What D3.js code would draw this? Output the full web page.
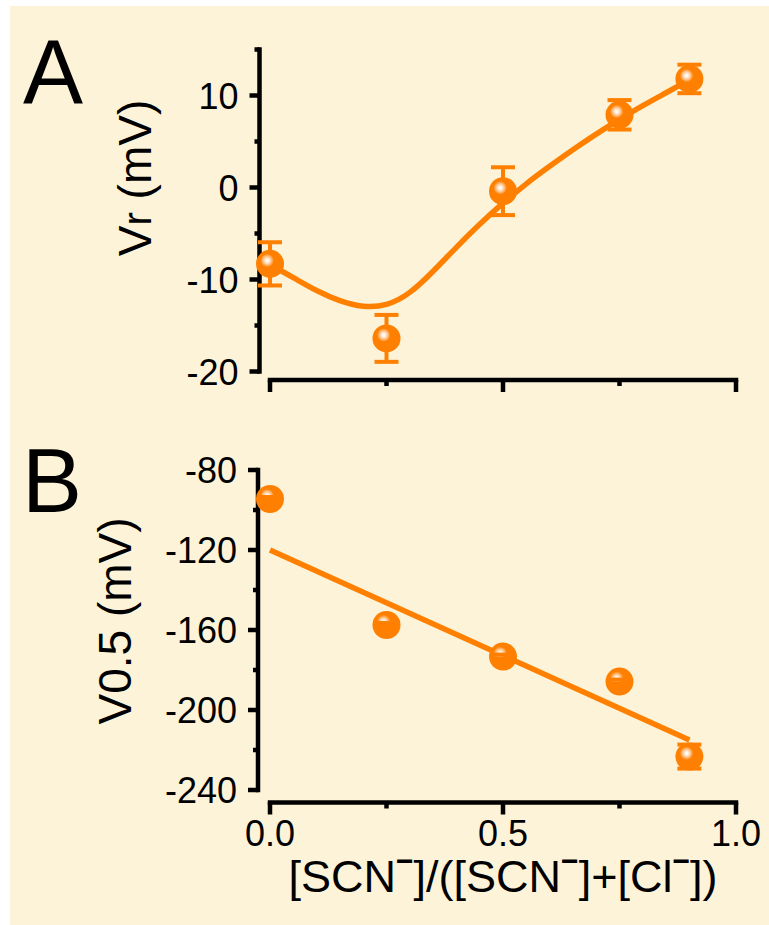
<!DOCTYPE html>
<html lang="en">
<head>
<meta charset="UTF-8">
<title>Vr and V0.5 vs SCN fraction</title>
<script src="https://d3js.org/d3.v7.min.js"></script>
<style>
  body { margin: 0; background: #fff; }
  text { font-family: "Liberation Sans", Arial, sans-serif; fill: #000; }
</style>
</head>
<body>
<svg id="chart" width="769" height="925"></svg>
<script>
// ---- data ----
const fraction = [0, 0.25, 0.5, 0.75, 0.9];

// panel A: reversal potential
const vrMean = [-8.3, -16.4, -0.4, 7.9, 11.8];
const vrErr  = [2.35, 2.55, 2.6, 1.6, 1.55];
const vrFitX = [0, 0.05, 0.1, 0.15, 0.2, 0.25, 0.3, 0.35, 0.4, 0.45, 0.5, 0.55, 0.6, 0.65, 0.7, 0.75, 0.8, 0.85, 0.9];
const vrFitY = [-8.4, -9.8, -11.2, -12.3, -12.9, -12.7, -11.4, -9.1, -6.5, -4.0, -1.7, 0.4, 2.3, 4.1, 5.8, 7.4, 8.9, 10.3, 11.7];

// panel B: half activation voltage
const v05Mean = [-94.5, -157.5, -173.3, -185.8, -223.3];
const v05Err  = [1, 1, 1, 1, 6];
const v05FitX = [0, 0.9];
const v05FitY = [-120, -215];

const xTicks = [0, 0.5, 1.0];
const xMinor = [0.25, 0.75];
const vrTicks = [-20, -10, 0, 10];
const vrMinor = [-15, -5, 5, 15];
const v05Ticks = [-240, -200, -160, -120, -80];
const v05Minor = [-220, -180, -140, -100];

const orange = "#ff8000";
const svg = d3.select("#chart");

svg.append("rect").attr("x", 10).attr("y", 6).attr("width", 759).attr("height", 919).attr("fill", "#fdf3d8");

const defs = svg.append("defs");
const grad = defs.append("radialGradient").attr("id", "ball")
  .attr("cx", 0.4).attr("cy", 0.38).attr("r", 0.6);
grad.append("stop").attr("offset", 0).attr("stop-color", "#ffffff");
grad.append("stop").attr("offset", 0.1).attr("stop-color", "#fff2e4");
grad.append("stop").attr("offset", 0.25).attr("stop-color", "#ffc084");
grad.append("stop").attr("offset", 0.4).attr("stop-color", orange);
grad.append("stop").attr("offset", 1).attr("stop-color", orange);

const x = d3.scaleLinear().domain([0, 1]).range([270, 736]);
const yA = d3.scaleLinear().domain([-20, 15]).range([371.5, 49.5]);
const yB = d3.scaleLinear().domain([-240, -80]).range([790, 470]);

const axisW = 4.5;

function yAxis(y, major, minor, axisX) {
  const g = svg.append("g");
  const [d0, d1] = y.domain();
  g.append("line").attr("x1", axisX).attr("x2", axisX)
    .attr("y1", y(d0) + axisW / 2).attr("y2", y(d1) - axisW / 2)
    .attr("stroke", "#000").attr("stroke-width", axisW);
  g.selectAll(".maj").data(major).join("line")
    .attr("x1", axisX - 10).attr("x2", axisX)
    .attr("y1", d => y(d)).attr("y2", d => y(d))
    .attr("stroke", "#000").attr("stroke-width", axisW);
  g.selectAll(".min").data(minor).join("line")
    .attr("x1", axisX - 5).attr("x2", axisX)
    .attr("y1", d => y(d)).attr("y2", d => y(d))
    .attr("stroke", "#000").attr("stroke-width", axisW);
  g.selectAll("text").data(major).join("text")
    .attr("x", axisX - 21).attr("y", d => y(d) + 13)
    .attr("text-anchor", "end").attr("font-size", 36)
    .text(d => d);
}

function xAxis(lineY, labels) {
  const g = svg.append("g");
  g.append("line").attr("x1", x(0) - axisW / 2).attr("x2", x(1) + axisW / 2)
    .attr("y1", lineY).attr("y2", lineY)
    .attr("stroke", "#000").attr("stroke-width", axisW);
  g.selectAll(".maj").data(xTicks).join("line")
    .attr("x1", d => x(d)).attr("x2", d => x(d))
    .attr("y1", lineY).attr("y2", lineY + 12)
    .attr("stroke", "#000").attr("stroke-width", axisW);
  g.selectAll(".min").data(xMinor).join("line")
    .attr("x1", d => x(d)).attr("x2", d => x(d))
    .attr("y1", lineY).attr("y2", lineY + 6)
    .attr("stroke", "#000").attr("stroke-width", axisW);
  if (labels) {
    g.selectAll("text").data(xTicks).join("text")
      .attr("x", d => x(d)).attr("y", 846)
      .attr("text-anchor", "middle").attr("font-size", 36)
      .text(d => d3.format(".1f")(d));
  }
}

function points(y, mean, err) {
  const g = svg.append("g");
  const cap = 12;
  // stems behind the markers
  g.selectAll(".stem").data(fraction).join("line")
    .attr("x1", d => x(d)).attr("x2", d => x(d))
    .attr("y1", (d, i) => y(mean[i] + err[i])).attr("y2", (d, i) => y(mean[i] - err[i]))
    .attr("stroke", orange).attr("stroke-width", 4);
  g.selectAll("circle").data(fraction).join("circle")
    .attr("cx", d => x(d)).attr("cy", (d, i) => y(mean[i]))
    .attr("r", 14).attr("fill", "url(#ball)");
  // caps on top
  const caps = [];
  fraction.forEach((d, i) => {
    caps.push([d, mean[i] + err[i]]);
    caps.push([d, mean[i] - err[i]]);
  });
  g.selectAll(".cap").data(caps).join("line")
    .attr("x1", d => x(d[0]) - cap).attr("x2", d => x(d[0]) + cap)
    .attr("y1", d => y(d[1])).attr("y2", d => y(d[1]))
    .attr("stroke", orange).attr("stroke-width", 4);
}

// ---- panel A ----
yAxis(yA, vrTicks, vrMinor, 259.5);
xAxis(380, false);
svg.append("path")
  .datum(vrFitX.map((v, i) => [v, vrFitY[i]]))
  .attr("d", d3.line().x(d => x(d[0])).y(d => yA(d[1])).curve(d3.curveNatural))
  .attr("fill", "none").attr("stroke", orange).attr("stroke-width", 5.5);
points(yA, vrMean, vrErr);

// ---- panel B ----
yAxis(yB, v05Ticks, v05Minor, 258);
xAxis(802.5, true);
svg.append("path")
  .datum(v05FitX.map((v, i) => [v, v05FitY[i]]))
  .attr("d", d3.line().x(d => x(d[0])).y(d => yB(d[1])))
  .attr("fill", "none").attr("stroke", orange).attr("stroke-width", 5.5);
points(yB, v05Mean, v05Err);

// ---- labels ----
svg.append("text").attr("x", 23).attr("y", 103).attr("font-size", 90).text("A");
svg.append("text").attr("x", 22).attr("y", 512).attr("font-size", 90).text("B");

const tA = svg.append("text")
  .attr("transform", "translate(151,178) rotate(-90)")
  .attr("text-anchor", "middle").attr("font-size", 46);
tA.append("tspan").text("V");
tA.append("tspan").attr("font-size", 40).text("r");
tA.append("tspan").text(" (mV)");

svg.append("text")
  .attr("transform", "translate(131,621) rotate(-90)")
  .attr("text-anchor", "middle").attr("font-size", 46)
  .text("V0.5 (mV)");

// x title with raised minus signs
const title = svg.append("text")
  .attr("x", 503).attr("y", 892)
  .attr("text-anchor", "middle").attr("font-size", 45);
const parts = ["[SCN", "]/([SCN", "]+[Cl", "])"];
parts.forEach((p, i) => {
  title.append("tspan").attr("dy", i === 0 ? 0 : 21).text(p);
  if (i < parts.length - 1) {
    title.append("tspan").attr("dy", -21).attr("font-size", 30)
      .attr("font-weight", "bold").text("\u2212");
  }
});
</script>
</body>
</html>
